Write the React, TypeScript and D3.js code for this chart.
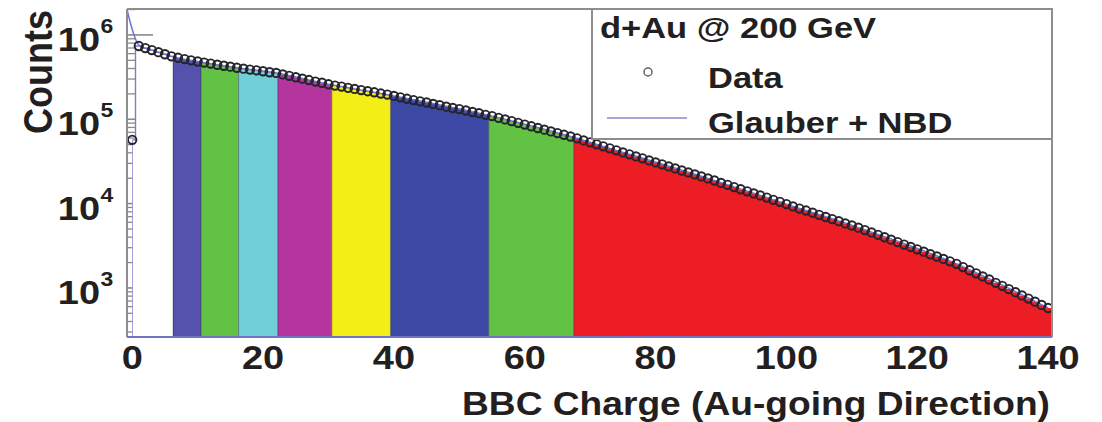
import React from "react";
import * as d3 from "d3";

// BBC charge distribution, d+Au at 200 GeV: counts per unit of charge (bin index = charge)
const counts = [
  57000, 739000, 698000, 661000, 624000, 590000, 557000, 536000, 518000, 500000, 484000,
  470000, 457000, 443000, 431000, 420000, 408000, 398000, 388000, 380000, 371000,
  361000, 354000, 340000, 327000, 315000, 303000, 292000, 280000, 271000, 260000,
  251000, 244000, 236000, 229000, 222000, 215000, 209000, 202000, 196000, 189000,
  182000, 175000, 169000, 163000, 158000, 152000, 147000, 141000, 136000, 132000,
  127000, 122000, 118000, 113000, 109000, 104000, 99500, 95200, 90800, 86500,
  82600, 78800, 75300, 71800, 68600, 65500, 62500, 59500, 56200, 53300,
  50500, 47800, 45200, 42800, 40500, 38400, 36300, 34400, 32500, 30800,
  29200, 27600, 26100, 24700, 23400, 22200, 21000, 19900, 18800, 17600,
  16700, 15700, 14800, 14000, 13200, 12500, 11800, 11100, 10500, 9860,
  9250, 8730, 8280, 7800, 7360, 6940, 6550, 6180, 5820, 5500,
  5190, 4850, 4550, 4260, 3990, 3740, 3500, 3270, 3060, 2870,
  2690, 2510, 2360, 2210, 2070, 1930, 1770, 1620, 1490, 1370,
  1260, 1150, 1060, 969, 890, 816, 748, 687, 629, 578,
];

// Glauber + NBD fit curve
const glauberCharge = [-0.8, 1, 3, 6, 10, 16, 22, 30, 40, 55, 67, 73, 88, 100, 111, 126, 140];
const glauberCounts = [
  2000000, 760000, 661000, 557000, 484000, 408000, 354000, 260000, 189000, 109000,
  62500, 45200, 19900, 9860, 5190, 1930, 578,
];

// Centrality class boundaries in BBC charge and their fill colours
const classEdges = [0, 6.25, 10.5, 16.25, 22.25, 30.5, 39.5, 54.5, 67.5, 140.6];
const classColors = [
  "#ffffff", "#5552ae", "#62c244", "#70cfd9", "#b5359f",
  "#f2ee16", "#3c4aa6", "#62c244", "#ec1d25",
];

const xTicks = [0, 20, 40, 60, 80, 100, 120, 140];
const yDecades = [1e3, 1e4, 1e5, 1e6];
const yExponents = ["3", "4", "5", "6"];

const xDomain = [-0.8, 140.6];
const yDomain = [262, 2.03e6];

const FONT = "'Liberation Sans', Arial, Helvetica, sans-serif";
const INK = "#231f20";
const SX = 1.15;

function SText({ x, y, size, anchor = "start", children }: any) {
  return (
    <text
      transform={`translate(${x},${y}) scale(${SX},1)`}
      fontFamily={FONT}
      fontWeight="bold"
      fontSize={size}
      fill={INK}
      textAnchor={anchor}
    >
      {children}
    </text>
  );
}

export default function App() {
  const left = 127, right = 1052, top = 9, bottom = 337;
  const x = d3.scaleLinear().domain(xDomain).range([left, right]);
  const y = d3.scaleLog().domain(yDomain).range([bottom, top]);

  const pts = counts.map((v, i) => ({ c: i, v }));
  const areaPts = [...pts, { c: xDomain[1], v: counts[counts.length - 1] }];
  const area = d3
    .area<{ c: number; v: number }>()
    .x((d) => x(d.c))
    .y0(bottom)
    .y1((d) => y(d.v))
    .curve(d3.curveStep);

  const fitLine = d3
    .line<number>()
    .x((_, i) => x(glauberCharge[i]))
    .y((d) => y(d))
    .curve(d3.curveMonotoneX);

  // log-axis ticks: majors at decades, minors at 2..9 x decade
  const minor: number[] = [];
  [100, 1000, 10000, 100000, 1000000].forEach((dec) => {
    for (let k = 2; k <= 9; k++) {
      const v = dec * k;
      if (v > yDomain[0] && v < yDomain[1]) minor.push(v);
    }
  });

  const bins = classEdges.slice(0, -1).map((lo, i) => ({
    lo,
    hi: classEdges[i + 1],
    color: classColors[i],
  }));

  return (
    <svg
      width={1102}
      height={422}
      style={{ position: "absolute", left: 0, top: 0, background: "#fff" }}
    >
      <defs>
        <clipPath id="plot-area">
          <rect x={left} y={top} width={right - left} height={bottom - top} />
        </clipPath>
        {bins.map((b, i) => (
          <clipPath id={`cls-${i}`} key={i}>
            <rect x={x(b.lo)} y={top} width={x(b.hi) - x(b.lo)} height={bottom - top} />
          </clipPath>
        ))}
      </defs>

      {/* y-axis ticks, drawn inside the frame */}
      {minor.map((v, i) => (
        <line key={`mi${i}`} x1={left} x2={left + 8} y1={y(v)} y2={y(v)} stroke="#8a8a8a" strokeWidth={1.3} />
      ))}
      {yDecades.map((v, i) => (
        <line key={`ma${i}`} x1={left} x2={left + 26} y1={y(v)} y2={y(v)} stroke="#8a8a8a" strokeWidth={1.6} />
      ))}

      {/* centrality classes */}
      {bins.map((b, i) => (
        <path
          key={`b${i}`}
          d={area(areaPts) || ""}
          fill={b.color}
          stroke={i === 0 ? "#7d7dd0" : "none"}
          strokeWidth={1.4}
          clipPath={`url(#cls-${i})`}
        />
      ))}
      {classEdges.slice(1, -1).map((e, i) => (
        <line
          key={`e${i}`}
          x1={x(e)}
          x2={x(e)}
          y1={bottom}
          y2={y(counts[Math.floor(e + 0.5)])}
          stroke="rgba(30,30,60,0.45)"
          strokeWidth={1}
        />
      ))}

      {/* Glauber + NBD */}
      <g clipPath="url(#plot-area)">
        <path d={fitLine(glauberCounts) || ""} fill="none" stroke="#7272d2" strokeWidth={1.5} />
      </g>

      {/* data */}
      <g clipPath="url(#plot-area)">
        {pts.map((d) => (
          <circle
            key={`p${d.c}`}
            cx={x(d.c)}
            cy={y(d.v)}
            r={4.2}
            fill="none"
            stroke="#24242a"
            strokeWidth={1.9}
          />
        ))}
      </g>

      {/* frame */}
      <line x1={left} x2={right} y1={top} y2={top} stroke="#8d8d8d" strokeWidth={2} />
      <line x1={left} x2={left} y1={top} y2={bottom} stroke="#8d8d8d" strokeWidth={2} />
      <line x1={right} x2={right} y1={top} y2={bottom} stroke="#8d8d8d" strokeWidth={2} />
      <line x1={left} x2={right} y1={bottom} y2={bottom} stroke="#7373c4" strokeWidth={2} />

      {/* legend */}
      <rect x={592} y={top} width={right - 592} height={130} fill="#fff" stroke="#8d8d8d" strokeWidth={2} />
      <SText x={600} y={38} size={30}>d+Au @ 200 GeV</SText>
      <circle cx={648} cy={72} r={4} fill="none" stroke="#666" strokeWidth={1.5} />
      <SText x={708} y={88} size={30}>Data</SText>
      <line x1={607} x2={687} y1={118} y2={118} stroke="#8a8ad6" strokeWidth={1.6} />
      <SText x={708} y={133} size={30}>Glauber + NBD</SText>

      {/* x tick labels */}
      {xTicks.map((t) => (
        <SText key={`xt${t}`} x={x(t)} y={369} size={33} anchor="middle">
          {t}
        </SText>
      ))}

      {/* y tick labels */}
      {yDecades.map((v, i) => (
        <g key={`yt${i}`}>
          <SText x={100} y={y(v) + 16} size={33} anchor="end">10</SText>
          <SText x={100.5} y={y(v) - 2} size={20}>{yExponents[i]}</SText>
        </g>
      ))}

      {/* axis titles */}
      <text
        x={462}
        y={415}
        fontFamily={FONT}
        fontWeight="bold"
        fontSize={33}
        fill={INK}
        textLength={588}
        lengthAdjust="spacingAndGlyphs"
      >
        BBC Charge (Au-going Direction)
      </text>
      <text
        transform={`translate(52,72) rotate(-90) scale(1,${SX})`}
        fontFamily={FONT}
        fontWeight="bold"
        fontSize={36}
        fill={INK}
        textAnchor="middle"
      >
        Counts
      </text>
    </svg>
  );
}
